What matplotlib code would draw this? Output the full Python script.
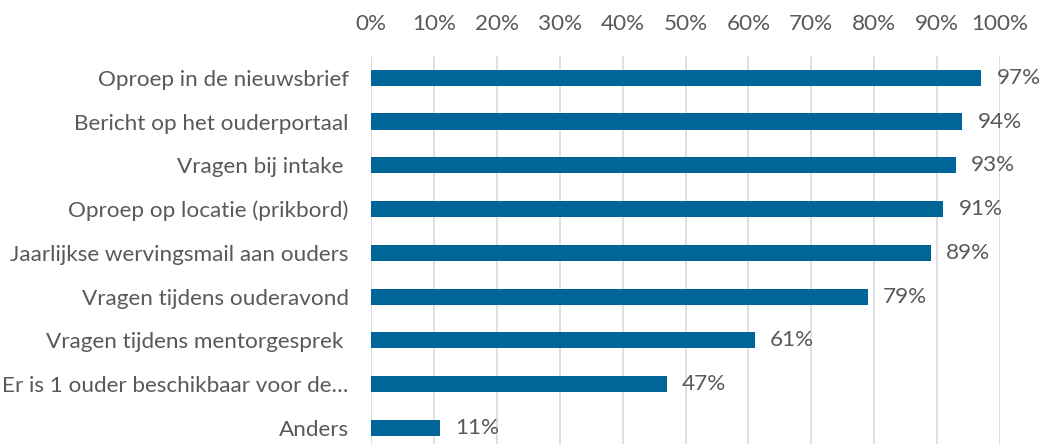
import matplotlib
matplotlib.use("Agg")
import matplotlib.pyplot as plt
from matplotlib.ticker import PercentFormatter

categories = [
    "Oproep in de nieuwsbrief",
    "Bericht op het ouderportaal",
    "Vragen bij intake ",
    "Oproep op locatie (prikbord)",
    "Jaarlijkse wervingsmail aan ouders",
    "Vragen tijdens ouderavond",
    "Vragen tijdens mentorgesprek ",
    "Er is 1 ouder beschikbaar voor de\u2026",
    "Anders",
]
values = [0.97, 0.94, 0.93, 0.91, 0.89, 0.79, 0.61, 0.47, 0.11]
xticks = [0, 0.1, 0.2, 0.3, 0.4, 0.5, 0.6, 0.7, 0.8, 0.9, 1.0]

plt.rcParams['font.family'] = ['Lato', 'DejaVu Sans']
text_color = '#595959'
bar_color = '#006699'
fs = 16.2

fig = plt.figure(figsize=(10.41, 4.44), dpi=100)
ax = fig.add_axes([371/1041, -0.013, 629/1041, 0.887])

y = list(range(len(categories)))
ax.barh(y, values, height=0.37, color=bar_color, zorder=3)
for yi, v in zip(y, values):
    ax.annotate(f"{round(v*100)}%", (v, yi), xytext=(11, 0), textcoords='offset points',
                va='center', ha='left', fontsize=fs, color=text_color)

ax.set_ylim(len(categories) - 0.5, -0.5)
ax.set_xlim(0, 1.0)
ax.set_yticks(y)
ax.set_yticklabels(categories)
ax.set_xticks(xticks)
ax.xaxis.set_major_formatter(PercentFormatter(1.0, decimals=0))
ax.xaxis.tick_top()
ax.tick_params(axis='x', length=0, pad=16, labelsize=fs, labelcolor=text_color)
ax.tick_params(axis='y', length=0, pad=16, labelsize=fs, labelcolor=text_color)
ax.grid(axis='x', color='#d9d9d9', linewidth=1.2, zorder=0)
for s in ax.spines.values():
    s.set_visible(False)

fig.savefig("out.png", dpi=100)
